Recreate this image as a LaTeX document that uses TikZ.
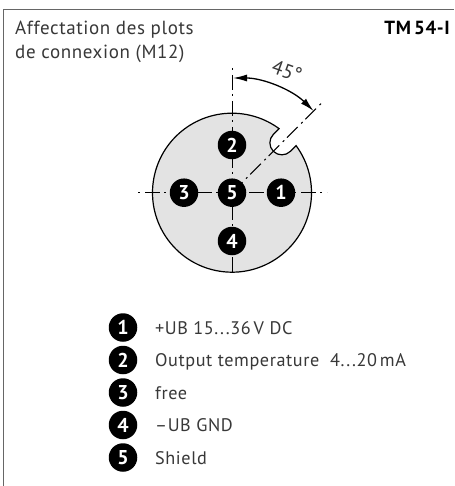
\documentclass[tikz,border=0pt]{standalone}
\usepackage{fontspec}
\setmainfont[LetterSpace=3.2]{PT Sans}
\newfontfamily\pinfont{PT Sans}
\usepackage{color}
\usepackage{tikz}
\usetikzlibrary{arrows.meta}
\definecolor{textgray}{rgb}{0.22,0.22,0.22}
\definecolor{discgray}{rgb}{0.89,0.89,0.89}
\definecolor{framegray}{rgb}{0.40,0.40,0.40}
\tikzset{
  pin/.style={circle,fill=black,inner sep=0pt,minimum size=28.5pt,text=white,font=\pinfont\fontsize{20}{20}\selectfont\bfseries},
  label/.style={anchor=base west,text=textgray,inner sep=0pt,font=\fontsize{18.2}{18.2}\selectfont},
  heading/.style={label,font=\fontsize{19}{19}\selectfont},
  axis/.style={line width=1pt,dash pattern=on 15pt off 4pt on 2pt off 5pt},
}
\begin{document}
\begin{tikzpicture}[x=1pt,y=1pt,yscale=-1,xscale=1]
      \useasboundingbox (0,0) rectangle (454,486);
      \fill[white] (0,0) rectangle (454,486);
      % frame
      \coordinate (framebottom) at (3.5,486);
      \coordinate (framecorner) at (3.5,9.5);
      \coordinate (frameright) at (454,9.5);
      \draw[framegray,line width=1.3pt] (framebottom) -- (framecorner) -- (frameright);
      \node (title1) at (15,35) [heading] {Affectation des plots};
      \node (title2) at (15,59) [heading] {de connexion (M12)};
      \node (type) at (450,35) [label,anchor=base east,text=black,font=\fontsize{19}{19}\selectfont\bfseries] {TM\,54-I};
      % connector body with its notch
      \begin{scope}[shift={(232,192.7)},rotate=-45]
        \draw[fill=discgray,line width=1.2pt] (8.7:79.5) arc[start angle=8.7,end angle=351.3,radius=79.5]
             -- (70.5,-12) arc[start angle=270,end angle=90,radius=12] -- cycle;
      \end{scope}
      % axes
      \coordinate (axistop) at (232,68);
      \coordinate (axisbottom) at (232,272);
      \coordinate (axisleft) at (138,192.7);
      \coordinate (axisright) at (327,192.7);
      \coordinate (axisslot) at (321,103.7);
      \coordinate (centre) at (232,192.7);
      \draw[axis,dash phase=19pt] (axistop) -- (axisbottom);
      \draw[axis,dash phase=19pt] (axisleft) -- (axisright);
      \draw[axis,dash phase=19pt] (axisslot) -- (centre);
      % angle
      \draw[line width=1.3pt,{Latex[length=14pt,width=7pt]}-{Latex[length=14pt,width=7pt]}] (233,78) arc[start angle=-90,end angle=-45.5,radius=115];
      \node (angle) at (287,71) [text=textgray,inner sep=0pt,rotate=-20,font=\pinfont\fontsize{20}{20}\selectfont] {45°};
      % pins
      \node[pin] (pin1) at (281,192.7) {1};
      \node[pin] (pin2) at (232,145) {2};
      \node[pin] (pin3) at (184,192.7) {3};
      \node[pin] (pin4) at (232,241) {4};
      \node[pin] (pin5) at (232,192.7) {5};
      % legend
      \node[pin] (key1) at (123,327.5) {1};
      \node[pin] (key2) at (123,360) {2};
      \node[pin] (key3) at (123,392.5) {3};
      \node[pin] (key4) at (123,425) {4};
      \node[pin] (key5) at (123,457.5) {5};
      \node (text1) at (155,334) [label] {+UB 15...36\,V DC};
      \node (text2) at (155,366.5) [label] {Output temperature\ \ 4...20\,mA};
      \node (text3) at (155,399) [label] {free};
      \node (text4) at (155,431.5) [label] {–UB GND};
      \node (text5) at (155,464) [label] {Shield};
\end{tikzpicture}
\end{document}
